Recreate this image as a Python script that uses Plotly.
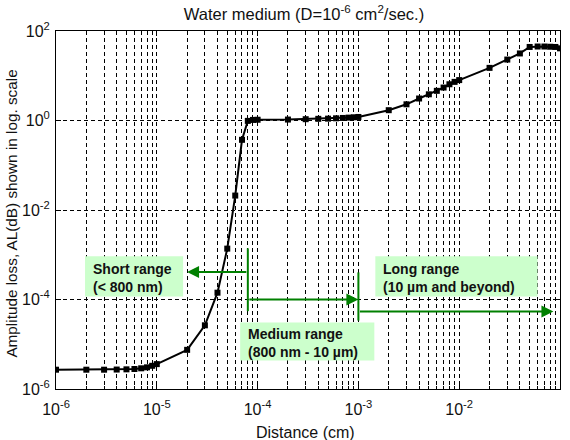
import plotly.graph_objects as go
import math

# ---- data ----
distance_cm = [
    1e-6, 2e-6, 3e-6, 4e-6, 5e-6, 6e-6, 7e-6, 8e-6, 9e-6,
    1e-5, 2e-5, 3e-5, 4e-5, 5e-5, 6e-5, 7e-5, 8e-5, 9e-5,
    1e-4, 2e-4, 3e-4, 4e-4, 5e-4, 6e-4, 7e-4, 8e-4, 9e-4,
    1e-3, 2e-3, 3e-3, 4e-3, 5e-3, 6e-3, 7e-3, 8e-3, 9e-3,
    1e-2, 2e-2, 3e-2, 4e-2, 5e-2, 6e-2, 7e-2, 8e-2, 9e-2,
    1e-1,
]
amplitude_loss = [
    2.7e-6, 2.7e-6, 2.7e-6, 2.72e-6, 2.75e-6, 2.8e-6, 2.9e-6, 3.05e-6, 3.3e-6,
    3.6e-6, 7.5e-6, 2.65e-5, 1.42e-4, 1.37e-3, 2.1e-2, 0.37, 0.98, 1.03,
    1.04, 1.05, 1.07, 1.09, 1.10, 1.12, 1.14, 1.16, 1.18,
    1.20, 1.70, 2.30, 3.10, 3.85, 4.60, 5.45, 6.45, 7.30,
    8.0, 15.0, 23.0, 31.5, 44.0, 45.0, 45.0, 44.5, 44.0,
    41.0,
]

x_tick_vals = [1e-6, 1e-5, 1e-4, 1e-3, 1e-2, 1e-1]
x_tick_text = ["10<sup>-6</sup>", "10<sup>-5</sup>", "10<sup>-4</sup>",
               "10<sup>-3</sup>", "10<sup>-2</sup>", "10<sup>-1</sup>"]
y_tick_vals = [1e-6, 1e-4, 1e-2, 1e0, 1e2]
y_tick_text = ["10<sup>-6</sup>", "10<sup>-4</sup>", "10<sup>-2</sup>",
               "10<sup>0</sup>", "10<sup>2</sup>"]
x_minor_vals = [m * d for d in [1e-6, 1e-5, 1e-4, 1e-3, 1e-2] for m in range(2, 10)]

# range boundaries (cm)
short_limit = 8e-5     # 800 nm
medium_limit = 1e-3    # 10 um

FONT = "Liberation Sans, Arial, sans-serif"
GREEN = "#008000"
BOXFILL = "#ccffcc"
TXT = "#111"
L = math.log10

fig = go.Figure()
fig.add_trace(go.Scatter(
    x=distance_cm, y=amplitude_loss, mode="lines+markers",
    line=dict(color="black", width=2),
    marker=dict(symbol="square", size=6, color="black"),
    showlegend=False, hoverinfo="x+y",
))

DASH = "4px,3px"
grid = dict(showgrid=True, gridcolor="black", gridwidth=1, griddash=DASH)

fig.update_layout(
    width=570, height=440,
    margin=dict(l=56, r=10, t=31, b=51),
    paper_bgcolor="white", plot_bgcolor="white",
    font=dict(family=FONT, size=16, color=TXT),
    title=dict(text="Water medium (D=10<sup>-6</sup> cm<sup>2</sup>/sec.)",
               x=(304 - 56) / 504 , xref="paper", xanchor="center",
               y=1 - 14 / 440, yref="container", yanchor="middle",
               font=dict(size=16.5, family=FONT, color=TXT)),
    xaxis=dict(type="log", range=[-6, -1], tickmode="array",
               tickvals=x_tick_vals, ticktext=x_tick_text,
               ticks="inside", ticklen=5, tickcolor="black",
               tickfont=dict(size=16), ticklabelstandoff=6,
               showline=True, linecolor="black", linewidth=1, mirror="ticks",
               zeroline=False,
               minor=dict(tickmode="array", tickvals=x_minor_vals,
                          ticks="inside", ticklen=3, tickcolor="black",
                          showgrid=True, gridcolor="black", gridwidth=1,
                          griddash=DASH),
               **grid),
    yaxis=dict(type="log", range=[-6, 2], tickmode="array",
               tickvals=y_tick_vals, ticktext=y_tick_text,
               ticks="inside", ticklen=5, tickcolor="black",
               tickfont=dict(size=16), ticklabelstandoff=2,
               showline=True, linecolor="black", linewidth=1, mirror="ticks",
               zeroline=False, **grid),
)

# axis titles
fig.add_annotation(text="Distance (cm)", xref="paper", yref="paper",
                   x=(305 - 56) / 504, y=-(432 - 389) / 358, xanchor="center",
                   yanchor="middle", showarrow=False,
                   font=dict(size=16, family=FONT, color=TXT))
fig.add_annotation(text="Amplitude loss, AL(dB) shown in log. scale",
                   xref="paper", yref="paper", x=(12 - 56) / 504, y=0.49,
                   xanchor="center", yanchor="middle", textangle=-90,
                   showarrow=False, font=dict(size=15.3, family=FONT, color=TXT))

# green boxes (data coordinates)
boxes = [
    (10 ** -5.712, 10 ** -4.739, 10 ** -3.931, 10 ** -3.036,
     "<b>Short range</b><br><b>(< 800 nm)</b>"),
    (10 ** -4.173, 10 ** -2.842, 10 ** -5.362, 10 ** -4.512,
     "<b>Medium range</b><br><b>(800 nm - 10 µm)</b>"),
    (10 ** -2.832, 10 ** -1.223, 10 ** -3.931, 10 ** -3.036,
     "<b>Long range</b><br><b>(10 µm and beyond)</b>"),
]
for x0, x1, y0, y1, txt in boxes:
    fig.add_shape(type="rect", xref="x", yref="y", x0=x0, x1=x1, y0=y0, y1=y1,
                  fillcolor=BOXFILL, line=dict(width=0), layer="above")
    fig.add_annotation(text=txt, xref="x", yref="y", x=L(x0),
                       y=(L(y0) + L(y1)) / 2, xanchor="left", yanchor="middle",
                       xshift=6, yshift=-2, align="left", showarrow=False,
                       font=dict(size=14, family=FONT, color=TXT))

# vertical green markers
fig.add_shape(type="line", xref="x", yref="y", x0=short_limit, x1=short_limit,
              y0=10 ** -4.26, y1=10 ** -2.857, line=dict(color=GREEN, width=2))
fig.add_shape(type="line", xref="x", yref="y", x0=medium_limit, x1=medium_limit,
              y0=10 ** -4.47, y1=10 ** -3.394, line=dict(color=GREEN, width=2))

# arrows (annotation coords are log10 on log axes)
arrows = [
    (L(short_limit), -3.387, -4.70, -3.387),
    (L(short_limit), -4.0, L(medium_limit), -4.0),
    (L(medium_limit), -4.266, -1.065, -4.266),
]
for tx, ty, hx, hy in arrows:
    fig.add_annotation(x=hx, y=hy, ax=tx, ay=ty, xref="x", yref="y",
                       axref="x", ayref="y", text="", showarrow=True,
                       arrowhead=2, arrowsize=1.2, arrowwidth=2,
                       arrowcolor=GREEN, standoff=0, startstandoff=0)

fig.write_html("out.html")
